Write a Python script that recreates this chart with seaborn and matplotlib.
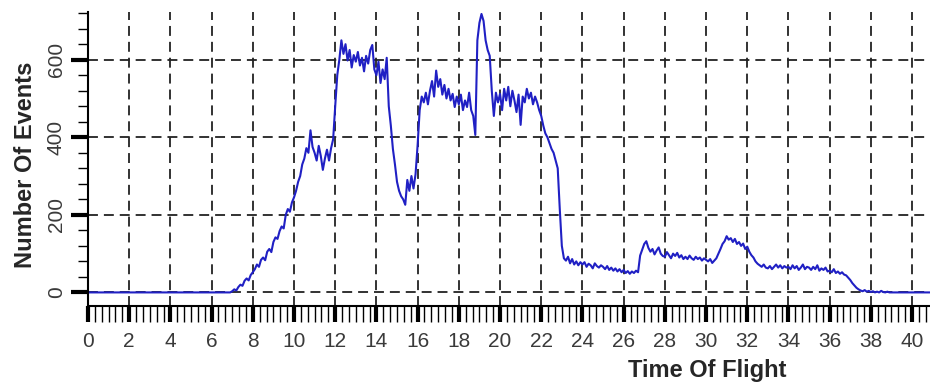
import numpy as np
import matplotlib
matplotlib.use('Agg')
import matplotlib.pyplot as plt
from matplotlib.ticker import MultipleLocator
import seaborn as sns

sns.set_style('white')
plt.rcParams['font.family'] = ['Liberation Sans', 'DejaVu Sans']

# counts, one row per unit of time of flight,
# sampled every 0.1 starting at 6.9 (zero everywhere else)
tof_first = 6.9
tof_step = 0.1
tof_min, tof_max = 0.0, 41.0

row_06 = [0]
row_07 = [3, 8, 5, 14, 20, 17, 30, 36, 31, 45]
row_08 = [52, 60, 72, 66, 84, 90, 83, 105, 112, 104]
row_09 = [130, 142, 138, 158, 170, 165, 200, 215, 208, 232]
row_10 = [245, 262, 285, 300, 330, 345, 372, 360, 418, 375]
row_11 = [360, 340, 378, 352, 316, 345, 368, 340, 372, 395]
row_12 = [480, 560, 600, 650, 615, 640, 598, 625, 580, 612]
row_13 = [595, 620, 585, 605, 570, 610, 590, 625, 638, 575]
row_14 = [560, 595, 540, 575, 550, 605, 480, 430, 370, 330]
row_15 = [285, 262, 248, 240, 226, 290, 262, 300, 268, 305]
row_16 = [380, 470, 505, 490, 515, 485, 520, 545, 505, 572]
row_17 = [530, 550, 510, 535, 500, 525, 495, 512, 478, 505]
row_18 = [485, 510, 470, 495, 478, 515, 470, 455, 406, 650]
row_19 = [695, 718, 700, 650, 625, 610, 520, 455, 515, 490]
row_20 = [512, 470, 525, 495, 530, 480, 520, 495, 465, 510]
row_21 = [432, 505, 490, 525, 500, 515, 485, 505, 490, 470]
row_22 = [455, 430, 410, 400, 385, 370, 360, 340, 320, 215]
row_23 = [120, 88, 82, 92, 75, 86, 72, 80, 70, 78]
row_24 = [72, 78, 66, 74, 70, 62, 75, 68, 64, 70]
row_25 = [66, 60, 68, 58, 64, 56, 62, 54, 60, 52]
row_26 = [58, 50, 55, 48, 54, 50, 56, 52, 95, 110]
row_27 = [125, 132, 115, 105, 112, 98, 108, 116, 100, 94]
row_28 = [92, 104, 96, 88, 100, 94, 102, 90, 96, 86]
row_29 = [92, 86, 95, 88, 84, 92, 86, 90, 82, 88]
row_30 = [84, 80, 86, 76, 82, 88, 100, 112, 125, 132]
row_31 = [145, 136, 140, 130, 138, 125, 130, 120, 126, 112]
row_32 = [118, 105, 96, 90, 80, 74, 70, 66, 72, 64]
row_33 = [62, 68, 60, 66, 72, 64, 70, 62, 68, 64]
row_34 = [66, 60, 70, 62, 68, 58, 64, 72, 60, 66]
row_35 = [64, 58, 66, 60, 70, 56, 62, 58, 64, 54]
row_36 = [56, 52, 60, 50, 54, 48, 52, 46, 44, 38]
row_37 = [32, 24, 18, 12, 8, 5, 3, 6, 2, 4]
row_38 = [1, 3, 0, 2, 0, 4, 1, 0, 2, 0]

events = (row_06 + row_07 + row_08 + row_09 + row_10 + row_11 + row_12
          + row_13 + row_14 + row_15 + row_16 + row_17 + row_18 + row_19
          + row_20 + row_21 + row_22 + row_23 + row_24 + row_25 + row_26
          + row_27 + row_28 + row_29 + row_30 + row_31 + row_32 + row_33
          + row_34 + row_35 + row_36 + row_37 + row_38)
tof = tof_first + tof_step * np.arange(len(events))

tof_all = np.concatenate([[tof_min], tof, [tof_max]])
events_all = np.concatenate([[0], events, [0]])

fig = plt.figure(figsize=(9.3, 3.85), dpi=100)
ax = fig.add_axes([0.0946, 0.2052, 0.9054, 0.7636])

sns.lineplot(x=tof_all, y=events_all, ax=ax, color='#2020c4',
             linewidth=1.5, estimator=None)

ax.set_xlim(0, 40.87)
ax.set_ylim(-35, 723)

ax.xaxis.set_major_locator(MultipleLocator(2))
ax.xaxis.set_minor_locator(MultipleLocator(1/3))
ax.yaxis.set_major_locator(MultipleLocator(200))
ax.yaxis.set_minor_locator(MultipleLocator(40))

ax.grid(True, which='major', color='#222222', linestyle=(0, (5.5, 3.3)),
        linewidth=1.3)
ax.set_axisbelow(True)

for s in ['top', 'right']:
    ax.spines[s].set_visible(False)
for s in ['left', 'bottom']:
    ax.spines[s].set_color('black')
    ax.spines[s].set_linewidth(1.5)

ax.tick_params(axis='x', which='both', bottom=True, top=False)
ax.tick_params(axis='y', which='both', left=True, right=False)
ax.tick_params(axis='x', which='major', direction='out', length=11.5,
               width=3, color='black', labelsize=15, labelcolor='#3a3a3a',
               pad=7)
ax.tick_params(axis='x', which='minor', direction='out', length=11.5,
               width=1, color='black')
ax.tick_params(axis='y', which='major', direction='out', length=12,
               width=3, color='black', labelsize=15, labelcolor='#3a3a3a',
               pad=4, labelrotation=90)
ax.tick_params(axis='y', which='minor', direction='out', length=7,
               width=1, color='black')
for lab in ax.get_yticklabels():
    lab.set_va('center')

ax.set_xlabel('Time Of Flight', fontsize=17, fontweight='bold')
ax.set_ylabel('Number Of Events', fontsize=17, fontweight='bold')
ax.xaxis.set_label_coords(0.735, -0.18)
ax.yaxis.set_label_coords(-0.0606, 0.48)

fig.savefig('out.png', dpi=100)
